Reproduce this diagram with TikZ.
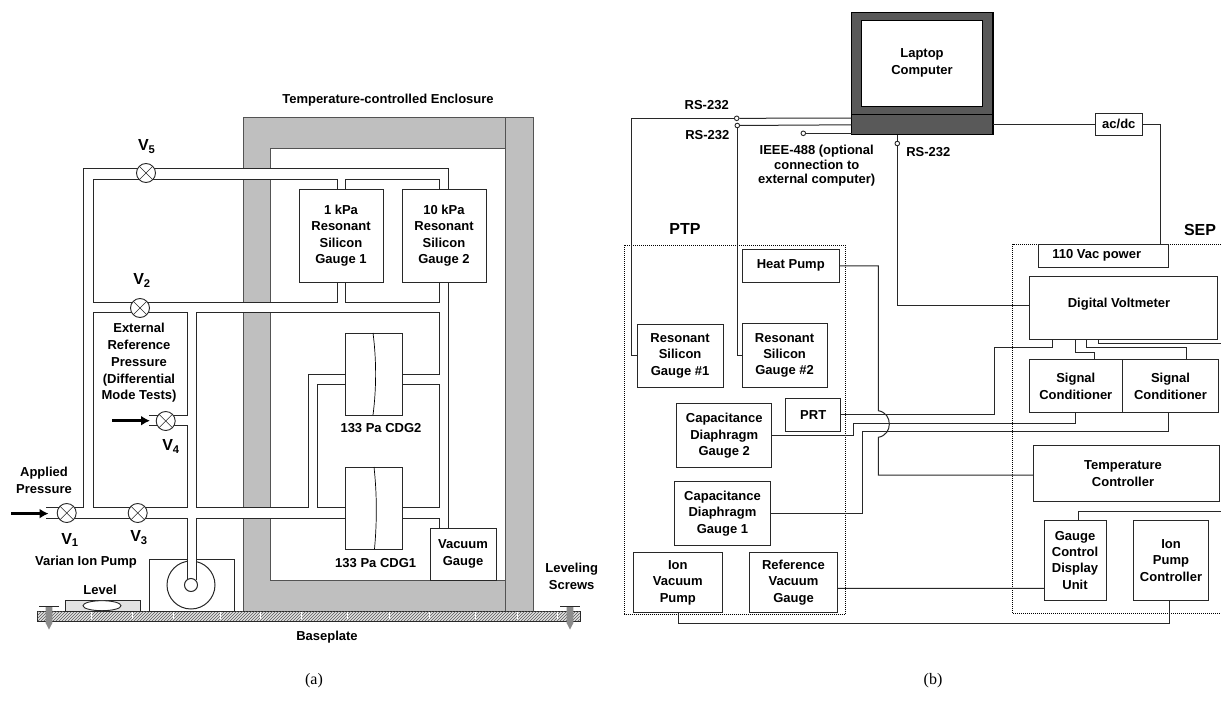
\documentclass[tikz,border=0pt]{standalone}
\usepackage{fontspec}
\setmainfont{Liberation Sans}
\newfontfamily\captionserif{Liberation Serif}
\usetikzlibrary{
  shapes.geometric,
  arrows.meta,
  patterns
}
\definecolor{WireDark}{RGB}{40, 40, 40}
\definecolor{WallGray}{RGB}{191, 191, 191}
\definecolor{LaptopGray}{RGB}{89, 89, 89}
\definecolor{LevelGray}{RGB}{226, 226, 226}
\definecolor{ScrewGray}{RGB}{140, 140, 140}
\tikzset{
    pipe/.style={draw=WireDark, line width=1pt, line join=miter},
    wire/.style={draw=WireDark, line width=1pt},
    unitbox/.style={draw=WireDark, fill=white, line width=0.9pt, inner sep=0pt, outer sep=0pt, align=center, font=\fontsize{13}{16.4}\selectfont\bfseries},
    labeltext/.style={inner sep=0pt, outer sep=0pt, align=center, font=\fontsize{13}{16.7}\selectfont\bfseries},
    valvename/.style={inner sep=0pt, outer sep=0pt, font=\fontsize{16}{18}\selectfont\bfseries},
    valve/.style={circle, draw=WireDark, fill=white, line width=0.9pt, minimum size=19pt, inner sep=0pt, path picture={
        \draw[line width=0.6pt] (path picture bounding box.north west) -- (path picture bounding box.south east);
        \draw[line width=0.6pt] (path picture bounding box.north east) -- (path picture bounding box.south west);}},
    jack/.style={circle, draw=WireDark, fill=white, line width=0.9pt, minimum size=4.6pt, inner sep=0pt},
    feedarrow/.style={-{Latex[length=9pt,width=10pt]}, line width=3.2pt, black},
    panelbox/.style={line width=1pt, densely dotted, black},
    laptopdark/.style={draw=black, fill=LaptopGray, line width=1.1pt, inner sep=0pt, outer sep=0pt},
}
\begin{document}
\begin{tikzpicture}[x=1pt, y=-1pt]
    \useasboundingbox (0,0) rectangle (1221,704);

    % enclosure and baseplate
    \draw[draw=WireDark!80, line width=1pt, fill=WallGray, even odd rule] (243,117) rectangle (533,611) (270.5,148) rectangle (505,580);
    \draw[draw=WireDark!80, line width=1pt] (505,117) -- (505,611);
    \fill[white] (242,168.5) rectangle (271.5,178.5);
    \fill[white] (242,302.5) rectangle (271.5,311.5);
    \fill[white] (242,508.2) rectangle (271.5,517.5);
    \draw[draw=WireDark, line width=0.9pt, fill=LevelGray] (37,611) rectangle (580,621);
    \fill[pattern=north east lines, pattern color=black!65] (37.5,611.5) rectangle (579.5,620.5);
    \foreach \tickx in {91,132,173,220,260,301,347,389,429,475,517,557}
        \draw[white, line width=0.8pt] (\tickx,612) -- (\tickx,619);
    \foreach \screwx in {49,570} {
        \fill[ScrewGray] (\screwx-3.4,606) -- (\screwx+3.4,606) -- (\screwx+3.4,623) -- (\screwx,629.5) -- (\screwx-3.4,623) -- cycle;
        \draw[WireDark, line width=0.8pt] (\screwx-10,606) -- (\screwx+10,606);
    }

    % ion pump and level
    \node[draw=WireDark, line width=1pt, minimum width=85pt, minimum height=52pt, inner sep=0pt] (pumpbody) at (191.5,585) {};
    \node[circle, draw=WireDark, line width=1pt, minimum size=48pt, inner sep=0pt] (pumpdisc) at (191,585) {};
    \fill[white] (187.5,556) rectangle (196,580);
    \node[draw=WireDark, fill=LevelGray, line width=1pt, minimum width=75pt, minimum height=11pt, inner sep=0pt] (levelbody) at (102.5,605.5) {};
    \node[ellipse, draw=WireDark, fill=white, line width=0.9pt, minimum width=38pt, minimum height=10pt, inner sep=0pt] (levelbubble) at (102,605.7) {};

    % pipes
    \draw[pipe] (46,507.7) -- (83.5,507.7) -- (83.5,168) -- (448,168) -- (448,189);
    \draw[pipe] (337,282) -- (337,302) -- (93,302) -- (93,179) -- (337,179) -- (337,189);
    \draw[pipe] (345,189) -- (345,179) -- (439,179) -- (439,189);
    \draw[pipe] (345,282) -- (345,302) -- (439,302) -- (439,282);
    \draw[pipe] (448,282) -- (448,528);
    \draw[pipe] (149,415) -- (187,415) -- (187,312) -- (93,312) -- (93,507.7) -- (187,507.7) -- (187,425) -- (149,425);
    \draw[pipe] (402,374) -- (439,374) -- (439,312) -- (196.5,312) -- (196.5,507.7) -- (308,507.7) -- (308,374) -- (345,374);
    \draw[pipe] (345,507.7) -- (317,507.7) -- (317,384) -- (345,384);
    \draw[pipe] (402,384) -- (439,384) -- (439,507.7) -- (402,507.7);
    \draw[pipe] (46,518) -- (187,518) -- (187,580);
    \draw[pipe] (196.5,580) -- (196.5,518) -- (345,518);
    \draw[pipe] (402,518) -- (439,518) -- (439,528);
    \node[circle, draw=WireDark, fill=white, line width=1pt, minimum size=13pt, inner sep=0pt] (pumpport) at (191,585) {};

    % gauges in the enclosure
    \node[unitbox, minimum width=84pt, minimum height=93pt] (kpaone) at (341,235.5) {1 kPa\\Resonant\\Silicon\\Gauge 1};
    \node[unitbox, minimum width=84pt, minimum height=93pt] (kpaten) at (444,235.5) {10 kPa\\Resonant\\Silicon\\Gauge 2};
    \node[unitbox, minimum width=57pt, minimum height=82pt] (cdgtwo) at (373.5,374) {};
    \node[unitbox, minimum width=57pt, minimum height=82pt] (cdgone) at (373.5,508) {};
    \node[unitbox, minimum width=66pt, minimum height=52pt] (vacgauge) at (463,554) {Vacuum\\Gauge};
    \draw[line width=0.7pt] (cdgtwo.north) ++(-0.5,0) .. controls (376.5,360) and (376.5,388) .. (373,415);
    \draw[line width=0.7pt] (cdgone.north) ++(0.5,0) .. controls (377,494) and (377,522) .. (374.5,549);

    % valves
    \node[valve] (vfive) at (146,173) {};
    \node[valve] (vtwo) at (140,308) {};
    \node[valve] (vfour) at (165.7,421) {};
    \node[valve] (vone) at (66.7,513) {};
    \node[valve] (vthree) at (137.7,513) {};
    \coordinate (appliedin) at (11,513.6);
    \coordinate (appliedout) at (48.5,513.6);
    \coordinate (refin) at (112,420.7);
    \coordinate (refout) at (150,420.7);
    \draw[feedarrow] (appliedin) -- (appliedout);
    \draw[feedarrow] (refin) -- (refout);

    % labels of (a)
    \node[labeltext] (enclosurelabel) at (388,100) {Temperature-controlled Enclosure};
    \node[valvename] (vfivelabel) at (146.7,146.5) {V\textsubscript{5}};
    \node[valvename] (vtwolabel) at (142,280.5) {V\textsubscript{2}};
    \node[valvename] (vfourlabel) at (171,446.5) {V\textsubscript{4}};
    \node[valvename] (vonelabel) at (70,540) {V\textsubscript{1}};
    \node[valvename] (vthreelabel) at (139,537.5) {V\textsubscript{3}};
    \node[labeltext] (externallabel) at (139,363) {External\\Reference\\Pressure\\(Differential\\Mode Tests)};
    \node[labeltext] (appliedlabel) at (44,480) {Applied\\Pressure};
    \node[labeltext] (varianlabel) at (86,562) {Varian Ion Pump};
    \node[labeltext] (levellabel) at (100,590) {Level};
    \node[labeltext] (cdgtwolabel) at (381,428) {133 Pa CDG2};
    \node[labeltext] (cdgonelabel) at (375.7,563) {133 Pa CDG1};
    \node[labeltext] (screwlabel) at (571.7,576) {Leveling\\Screws};
    \node[labeltext] (baselabel) at (327,637) {Baseplate};
    \node[inner sep=0pt, font=\fontsize{16}{18}\selectfont\captionserif] (captiona) at (314,681) {(a)};
    \node[inner sep=0pt, font=\fontsize{16}{18}\selectfont\captionserif] (captionb) at (933,681) {(b)};

    % panels of (b)
    \draw[panelbox] (624.7,245.3) rectangle (845.3,614.3);
    \draw[panelbox] (1221,244.3) -- (1012.7,244.3) -- (1012.7,613.3) -- (1221,613.3);
    \node[valvename] (ptplabel) at (685,229.3) {PTP};
    \node[valvename] (seplabel) at (1200,230) {SEP};

    % laptop
    \node[laptopdark, minimum width=141.3pt, minimum height=102pt] (laptoplid) at (922.3,63.3) {};
    \node[unitbox, draw=black, minimum width=120.6pt, minimum height=86pt] (laptopscreen) at (922,63) {Laptop\\Computer};
    \node[laptopdark, minimum width=141.3pt, minimum height=20pt] (laptopbase) at (922.3,124.8) {};

    % units of (b)
    \node[unitbox, minimum width=47pt, minimum height=22pt] (acdc) at (1118.8,124.3) {ac/dc};
    \node[unitbox, minimum width=129.6pt, minimum height=23pt, label={[labeltext,xshift=-6.8pt]center:110 Vac power}] (vacpower) at (1103.5,255.5) {};
    \node[unitbox, minimum width=188.4pt, minimum height=63pt, label={[labeltext,xshift=-4.5pt,yshift=3.5pt]center:Digital Voltmeter}] (voltmeter) at (1123.5,307.5) {};
    \node[unitbox, minimum width=93.7pt, minimum height=53pt] (condone) at (1075.8,386.2) {Signal\\Conditioner};
    \node[unitbox, minimum width=95.6pt, minimum height=53pt] (condtwo) at (1170.5,386.2) {Signal\\Conditioner};
    \node[unitbox, minimum width=185.6pt, minimum height=55.3pt, label={[labeltext,xshift=-3.5pt]center:Temperature\\Controller}] (tempctrl) at (1126.5,473.3) {};
    \node[unitbox, minimum width=62pt, minimum height=80.3pt] (gaugectrl) at (1075,560.2) {Gauge\\Control\\Display\\Unit};
    \node[unitbox, minimum width=74.6pt, minimum height=80.3pt] (ionctrl) at (1171,560.2) {Ion\\Pump\\Controller};
    \node[unitbox, minimum width=97.7pt, minimum height=33pt] (heatpump) at (790.8,265.8) {Heat Pump};
    \node[unitbox, minimum width=85.7pt, minimum height=63.7pt] (rsgone) at (680.1,355.8) {Resonant\\Silicon\\Gauge \#1};
    \node[unitbox, minimum width=85.3pt, minimum height=63.6pt] (rsgtwo) at (784.6,355.5) {Resonant\\Silicon\\Gauge \#2};
    \node[unitbox, minimum width=55pt, minimum height=32.3pt] (prt) at (813.2,414.8) {PRT};
    \node[unitbox, minimum width=95pt, minimum height=64pt] (capgtwo) at (724.2,435.7) {Capacitance\\Diaphragm\\Gauge 2};
    \node[unitbox, minimum width=95.6pt, minimum height=64pt] (capgone) at (722.5,513.3) {Capacitance\\Diaphragm\\Gauge 1};
    \node[unitbox, minimum width=88.3pt, minimum height=59.6pt] (ionpump) at (677.8,582.5) {Ion\\Vacuum\\Pump};
    \node[unitbox, minimum width=88.4pt, minimum height=59.6pt] (refgauge) at (793.5,582.5) {Reference\\Vacuum\\Gauge};

    % jacks
    \node[jack] (rsjackone) at (736.7,118.3) {};
    \node[jack] (rsjacktwo) at (737.3,125.5) {};
    \node[jack] (ieeejack) at (803.3,133.3) {};
    \node[jack] (rsjackdvm) at (897.3,143.5) {};
    \coordinate (jumptop) at (878.3,410.7);
    \coordinate (jumpbottom) at (878.3,437.3);
    \coordinate (gaugeexit) at (1221,511);
    \coordinate (dvmexit) at (1221,343.3);

    % wires of (b)
    \draw[wire] ([yshift=6.7pt]laptopbase.west) -- (rsjackone);
    \draw[wire] (rsjackone) -| ([xshift=-5.6pt]rsgone.west) -- (rsgone.west);
    \draw[wire] (laptopbase.west) -- (rsjacktwo);
    \draw[wire] (rsjacktwo) |- (rsgtwo.west);
    \draw[wire] ([yshift=-8.5pt]laptopbase.west) -- (ieeejack);
    \draw[wire] ([xshift=-25pt]laptopbase.south) -- (rsjackdvm);
    \draw[wire] (rsjackdvm) |- ([yshift=1.8pt]voltmeter.west);
    \draw[wire] (laptopbase.east |- acdc.west) -- (acdc.west);
    \draw[wire] (acdc.east) -| ([xshift=57.2pt]vacpower.north);
    \draw[wire] (heatpump.east) -| (jumptop) .. controls (893,413) and (893,435) .. (jumpbottom) |- ([yshift=-1.7pt]tempctrl.west);
    \draw[wire] (prt.east) -- (994.3,414.8) |- (1052,347) -- ([xshift=-71.5pt]voltmeter.south);
    \draw[wire] ([xshift=-47.8pt]voltmeter.south) |- (1094.3,352.7) -- ([xshift=18.5pt]condone.north);
    \draw[wire] ([xshift=-37.2pt]voltmeter.south) |- (1186,347.3) -- ([xshift=15.5pt]condtwo.north);
    \draw[wire] ([xshift=-25.2pt]voltmeter.south) |- (dvmexit);
    \draw[wire] (condone.south) |- (853.7,423.3) |- (capgtwo.east);
    \draw[wire] ([xshift=-2.2pt]condtwo.south) |- (862.7,431.8) |- (capgone.east);
    \draw[wire] ([xshift=3.7pt]gaugectrl.north) |- (gaugeexit);
    \draw[wire] ([yshift=-28.2pt]gaugectrl.west) -- ([yshift=-5.8pt]refgauge.east);
    \draw[wire] ([xshift=0.5pt]ionpump.south) |- (1169.7,623.3) -- ([xshift=-1.3pt]ionctrl.south);

    % labels of (b)
    \node[labeltext] (rslabelone) at (706.7,105.3) {RS-232};
    \node[labeltext] (rslabeltwo) at (707.3,135.3) {RS-232};
    \node[labeltext] (rslabeldvm) at (928.3,151.7) {RS-232};
    \node[labeltext, font=\fontsize{13}{14.5}\selectfont\bfseries] (ieeelabel) at (816.7,166) {IEEE-488 (optional\\connection to\\external computer)};
\end{tikzpicture}
\end{document}
